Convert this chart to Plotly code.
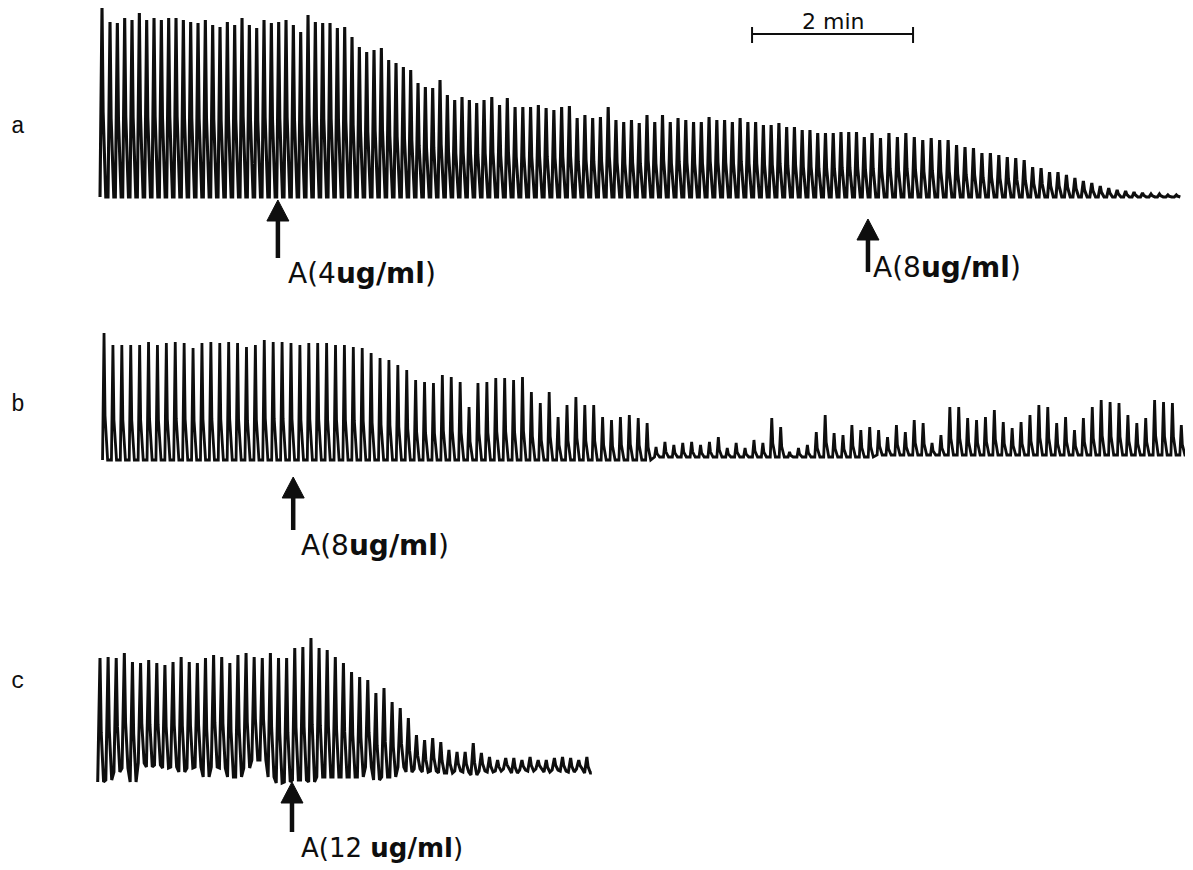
import plotly.graph_objects as go

# ---------------- data ----------------
PX_PER_MIN = 80.5          # the 2 min bar is ~161 px long

# trace a: peak height of each contraction (arbitrary units above baseline)
a_start = 0.025            # min, first contraction
# beat-to-beat interval (min) and how many beats keep it (the rate drifts along the record)
a_intervals = [(1, 0.0994), (51, 0.0911), (50, 0.0964), (36, 0.1050)]
a_peaks = [189,
           175, 174, 179, 177, 184, 177, 179, 177, 179, 179, 177, 175, 174, 177, 172, 170, 175, 172, 179, 172,
           169, 177, 174, 175, 177, 172, 165, 182, 175, 174, 174, 169, 170, 160, 150, 145, 147, 149, 137, 134,
           130, 127, 114, 110, 109, 117, 102, 97, 100, 97, 94, 97,
           100, 92, 99, 90, 90, 90, 92, 89, 87, 90, 91, 79, 82, 79, 80, 90, 77, 75, 77, 74, 82, 75, 82, 75,
           79, 77, 75, 75, 80, 77, 77, 75, 79, 75, 75, 72, 72, 74, 70, 70, 67, 67, 64, 64, 64, 65, 65, 65, 60, 64,
           59, 64, 60, 64, 60, 57, 59, 57, 57, 52, 50, 49, 44, 44, 42, 40, 39, 37, 30, 29, 25, 25, 22, 19, 16, 14,
           11, 9, 7, 6, 5, 4,
           3, 3, 2, 2]
a_troughs = [0] * len(a_peaks)
a_end = 13.42

# trace b
b_start = 0.05
b_intervals = [(122, 0.1106)]
b_peaks = [127, 115, 115, 115, 115, 118, 115, 117, 118, 117, 112, 117, 118, 117, 118, 117, 113, 115, 120, 118,
           118, 117, 115, 117, 117, 117, 115, 115, 113, 112, 107, 102, 100, 95, 90, 80, 78, 77, 85, 83, 78, 53,
           77, 78,
           82, 82, 80, 83, 68, 57, 68, 43, 55, 63, 55, 55, 43, 40, 43, 45, 42, 37,
           13, 18, 15, 17, 18, 15, 18, 23, 12, 17, 12, 20, 17, 42, 33, 8, 12, 15, 28, 45, 27, 25, 35, 30, 33,
           30, 23, 35, 28, 40, 37, 17, 25, 53, 53, 42, 40, 43, 50, 38, 32, 38, 45, 55, 53, 37, 43, 30, 42, 53,
           60, 58, 57, 45, 37, 42, 60, 58, 57, 35, 40]
b_troughs = [0] * 62 + [3] * 25 + [5] * 36
b_end = 13.7

# trace c
c_start = 0.0
c_intervals = [(60, 0.1008)]
c_peaks = [119, 120, 119, 124, 115, 114, 117, 114, 112, 115, 120, 115, 114, 119, 122, 120, 114, 122, 124, 120,
           119, 124, 119, 119, 129, 130, 139, 129, 127, 120, 114, 105, 100, 97, 84, 89, 75, 69, 59,
           42, 37, 39, 35, 27, 25, 25, 34, 24, 20, 17, 19, 19, 17, 20, 17, 17, 19, 20, 19, 17, 20]
c_troughs = [-5, -3, 5, 9, -5, 14, 10, 12, 9, 10, 5, 9, 10, 0, 10, 9, 0, 0, 9, 17,
             17, 0, -6, -5, -3, -3, -5, 0, 0, 0, 0, 0, 0, 10, -3, 0, 0, 10, 5,
             8, 5, 6, 4, 4, 6, 5, 2, 6, 5, 6, 8, 4, 7, 6, 8, 5, 7, 6, 5, 8, 4]
c_end = 6.11

# drug additions: (panel axis, time [min], arrow tip, arrow tail, label, label x gap, label level, font size)
doses = [
    ("y", 2.21, -3, -61, "A(4<b>ug/ml</b>)", 8, -76, 28),
    ("y", 9.54, -22, -75, "A(8<b>ug/ml</b>)", 3, -70, 28),
    ("y2", 2.40, -17, -70, "A(8<b>ug/ml</b>)", 6, -85, 28),
    ("y3", 2.385, -5, -55, "A(12 <b>ug/ml</b>)", 7, -71, 26),
]
panel_letters = [("y", "a", 70), ("y2", "b", 55), ("y3", "c", 95)]
scale_bar_start = 8.1      # min
scale_bar_len = 2.0        # min
scale_bar_level = 163

INK = "#0e0e0e"
PAGE_OFFSET = 8            # the page body margin
W, H = 1193 - PAGE_OFFSET, 870 - PAGE_OFFSET


def px(v):
    return v / PX_PER_MIN


def beat_times(t0, intervals):
    times = [t0]
    for count, dt in intervals:
        for _ in range(count):
            times.append(times[-1] + dt)
    return times


def beat_path(times, peaks, troughs, rise, fall1, frac1, fall2, t_end):
    xs, ys = [], []
    for t, p, q in zip(times, peaks, troughs):
        xs += [t - px(rise), t, t + px(fall1), t + px(fall2)]
        ys += [q, p, q + frac1 * (p - q), q]
    xs.append(t_end)
    ys.append(troughs[-1])
    return xs, ys


fig = go.Figure()

for ax, (t0, ivs, pk, tr, shape, tend, lw) in zip(
        ["y", "y2", "y3"],
        [(a_start, a_intervals, a_peaks, a_troughs, (2.0, 1.1, 0.45, 3.8), a_end, 3.1),
         (b_start, b_intervals, b_peaks, b_troughs, (1.5, 1.0, 0.35, 3.6), b_end, 2.8),
         (c_start, c_intervals, c_peaks, c_troughs, (2.3, 1.2, 0.4, 3.6), c_end, 3.0)]):
    xs, ys = beat_path(beat_times(t0, ivs), pk, tr, *shape, tend)
    fig.add_trace(go.Scatter(x=xs, y=ys, mode="lines", yaxis=ax, xaxis="x",
                             line=dict(color=INK, width=lw), hoverinfo="skip"))

# dose arrows and labels
for ax, t, tip, tail, label, gap, ly, fs in doses:
    head_h = 21
    hw = px(11)
    fig.add_trace(go.Scatter(x=[t, t], y=[tail, tip - head_h + 2], mode="lines", yaxis=ax, xaxis="x",
                             line=dict(color=INK, width=4.5), hoverinfo="skip"))
    fig.add_trace(go.Scatter(x=[t - hw, t, t + hw, t - hw], y=[tip - head_h, tip, tip - head_h, tip - head_h],
                             mode="lines", fill="toself", fillcolor=INK, yaxis=ax, xaxis="x",
                             line=dict(color=INK, width=1), hoverinfo="skip"))
    fig.add_annotation(x=t + px(gap), y=ly, xref="x", yref=ax, text=label, showarrow=False,
                       xanchor="left", yanchor="middle",
                       font=dict(family="DejaVu Sans", size=fs, color=INK))

# panel letters
for ax, letter, lev in panel_letters:
    fig.add_annotation(x=px(18 - 100), y=lev, xref="x", yref=ax, text=letter, showarrow=False,
                       xanchor="center", yanchor="middle",
                       font=dict(family="Liberation Mono, Courier New, monospace", size=23, color=INK))

# scale bar
sb0, sb1 = scale_bar_start, scale_bar_start + scale_bar_len
fig.add_trace(go.Scatter(
    x=[sb0, sb1, None, sb0, sb0, None, sb1, sb1],
    y=[scale_bar_level, scale_bar_level, None, scale_bar_level + 7, scale_bar_level - 9, None,
       scale_bar_level + 7, scale_bar_level - 9],
    mode="lines", yaxis="y", xaxis="x", line=dict(color=INK, width=2), hoverinfo="skip"))
fig.add_annotation(x=(sb0 + sb1) / 2, y=scale_bar_level + 13, xref="x", yref="y", text="2 min",
                   showarrow=False, xanchor="center", yanchor="middle", borderpad=0,
                   font=dict(family="DejaVu Sans", size=22, color=INK))


def dom(top_px, bottom_px):
    return [1 - (bottom_px - PAGE_OFFSET) / H, 1 - (top_px - PAGE_OFFSET) / H]


fig.update_layout(
    width=W, height=H, autosize=False,
    margin=dict(l=0, r=0, t=0, b=0, pad=0),
    paper_bgcolor="white", plot_bgcolor="white",
    showlegend=False, hovermode=False,
    xaxis=dict(range=[px(PAGE_OFFSET - 100), px(1193 - 100)], visible=False, fixedrange=True, anchor="y3"),
    yaxis=dict(domain=dom(PAGE_OFFSET, 290), range=[197 - 290, 197 - PAGE_OFFSET], visible=False,
               fixedrange=True, anchor="x"),
    yaxis2=dict(domain=dom(290, 580), range=[460 - 580, 460 - 290], visible=False,
                fixedrange=True, anchor="x"),
    yaxis3=dict(domain=[0.0, dom(580, 870)[1]], range=[777 - 870, 777 - 580], visible=False,
                fixedrange=True, anchor="x"),
)

fig.write_html("out.html")
